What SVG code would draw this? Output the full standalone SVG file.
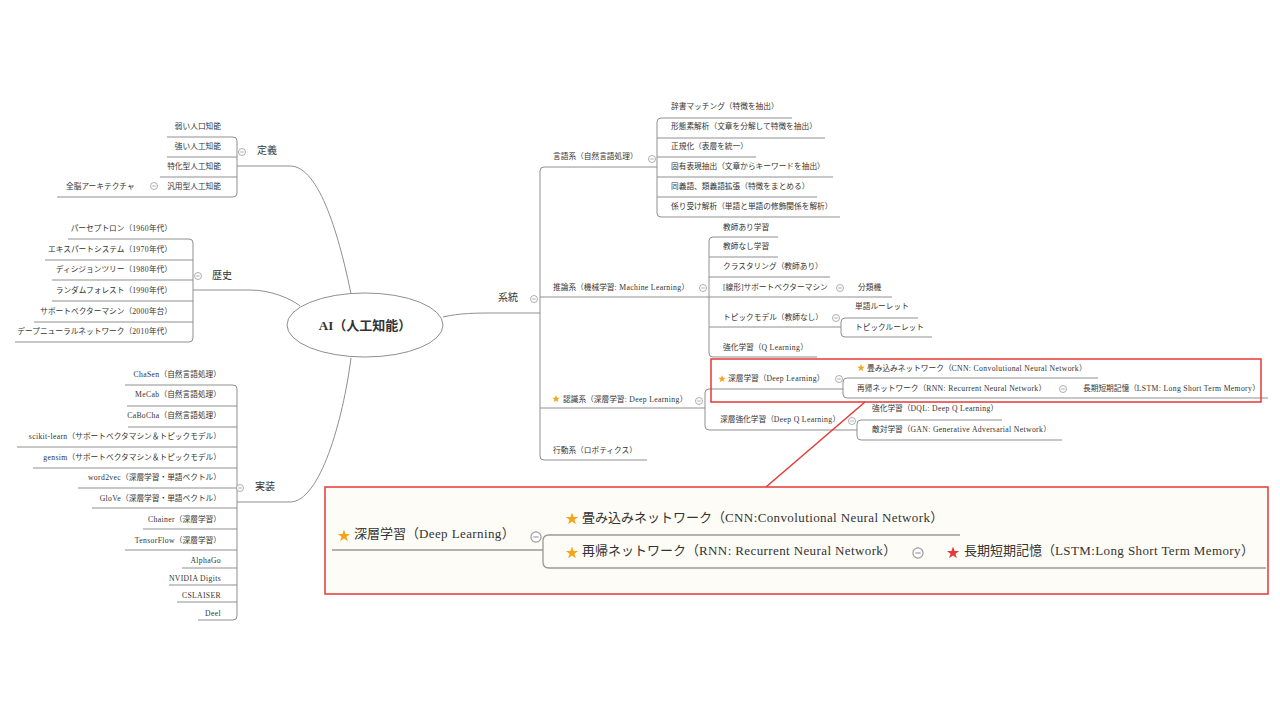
<svg xmlns="http://www.w3.org/2000/svg" xmlns:xlink="http://www.w3.org/1999/xlink" width="1280" height="720" viewBox="0 0 1280 720">
<defs>
<style>
.ln{fill:none;stroke:#8f8f8f;stroke-width:1}
.lnb{fill:none;stroke:#999;stroke-width:1.3}
.t{font-family:"Liberation Serif","Noto Sans CJK JP",serif;font-size:7.7px;fill:#333}
.la{letter-spacing:0.045em}
.big .la{letter-spacing:0.03em}
.e{text-anchor:end}
.l1{font-size:10px}
.big{font-size:13px}
.ctr{font-size:13px;font-weight:bold;text-anchor:middle}
.gold{fill:#f4a416}
.red{fill:#e53935}
.box{fill:none;stroke:#e53935;stroke-width:1.5}
</style>
<g id="tog"><circle r="3.5" fill="#fff" stroke="#999" stroke-width="0.8"/><line x1="-1.8" y1="0" x2="1.8" y2="0" stroke="#999" stroke-width="0.8"/></g>
<path id="star" d="M0,-1 L0.235,-0.324 L0.951,-0.309 L0.38,0.124 L0.588,0.809 L0,0.4 L-0.588,0.809 L-0.38,0.124 L-0.951,-0.309 L-0.235,-0.324Z"/>
</defs>
<rect width="1280" height="720" fill="#fff"/>

<g id="connectors">
<path class="ln" d="M237,166 H290 C320,166 340,240 351,294"/>
<path class="ln" d="M193,290 H250 C270,290 290,298 300,306"/>
<path class="ln" d="M237,502 H290 C320,502 343,420 351,358"/>
<path class="ln" d="M443,317 C460,313 475,313 500,313 H540"/>
<path class="ln" d="M167,137 H233 Q237,137 237,141 V193 Q237,197 233,197 H57"/>
<path class="ln" d="M167,157 H237 M160,177 H237"/>
<path class="ln" d="M68,239 H189 Q193,239 193,243 V338 Q193,342 189,342 H15"/>
<path class="ln" d="M45,260 H193 M52,280 H193 M52,301 H193 M34,322 H193"/>
<path class="ln" d="M125,385 H233 Q237,385 237,389 V616 Q237,620 233,620 H198"/>
<path class="ln" d="M127,406 H237 M128,427 H237 M17,447 H237 M33,468 H237 M78,488 H237 M92,508 H237 M143,529 H237 M125,550 H237 M182,568 H237 M169,585 H237 M177,602 H237"/>
<path class="ln" d="M657,167 H544 Q540,167 540,171 V456 Q540,460 544,460 H647"/>
<path class="ln" d="M540,297 H709 M540,408 H705"/>
<path class="ln" d="M792,118 H661 Q657,118 657,122 V213 Q657,217 661,217 H840"/>
<path class="ln" d="M657,138 H825 M657,157 H756 M657,177 H833 M657,197 H817"/>
<path class="ln" d="M778,237 H713 Q709,237 709,241 V353 Q709,357 713,357 H817"/>
<path class="ln" d="M709,257 H778 M709,277 H830 M709,297 H845 M709,327 H841"/>
<path class="ln" d="M845,297 H892"/>
<path class="ln" d="M918,318 H845 Q841,318 841,322 V333 Q841,337 845,337 H932"/>
<path class="ln" d="M843,389 H709 Q705,389 705,393 V426 Q705,430 709,430 H857"/>
<path class="ln" d="M1098,378 H847 Q843,378 843,382 V394 Q843,398 847,398 H1268"/>
<path class="ln" d="M1002,420 H861 Q857,420 857,424 V436 Q857,440 861,440 H1062"/>
<rect class="box" x="711" y="359" width="550" height="43"/>
<line x1="865" y1="402" x2="766" y2="487" stroke="#e53935" stroke-width="1.5"/>
</g>

<g id="center">
<ellipse cx="365" cy="325" rx="78" ry="32" fill="#fff" stroke="#8f8f8f" stroke-width="1"/>
<text class="t ctr" x="365" y="330">AI（人工知能）</text>
</g>

<g id="teigi">
<text class="t l1" x="257" y="154">定義</text>
<use xlink:href="#tog" x="242" y="152"/>
<text class="t e" x="221" y="129">弱い人口知能</text>
<text class="t e" x="221" y="149">強い人工知能</text>
<text class="t e" x="221" y="169">特化型人工知能</text>
<text class="t e" x="221" y="189">汎用型人工知能</text>
<use xlink:href="#tog" x="154" y="186"/>
<text class="t" x="66" y="189">全脳アーキテクチャ</text>
</g>

<g id="rekishi">
<text class="t l1" x="212" y="279">歴史</text>
<use xlink:href="#tog" x="198" y="276"/>
<text class="t e" x="172" y="231">パーセプトロン（<tspan class="la">1960</tspan>年代）</text>
<text class="t e" x="172" y="252">エキスパートシステム（<tspan class="la">1970</tspan>年代）</text>
<text class="t e" x="172" y="272">ディシジョンツリー（<tspan class="la">1980</tspan>年代）</text>
<text class="t e" x="172" y="293">ランダムフォレスト（<tspan class="la">1990</tspan>年代）</text>
<text class="t e" x="172" y="314">サポートベクターマシン（<tspan class="la">2000</tspan>年台）</text>
<text class="t e" x="172" y="334">デープニューラルネットワーク（<tspan class="la">2010</tspan>年代）</text>
</g>

<g id="jisso">
<text class="t l1" x="255" y="490">実装</text>
<use xlink:href="#tog" x="240" y="488"/>
<text class="t e" x="221" y="377"><tspan class="la">ChaSen</tspan>（自然言語処理）</text>
<text class="t e" x="221" y="397"><tspan class="la">MeCab</tspan>（自然言語処理）</text>
<text class="t e" x="221" y="418"><tspan class="la">CaBoCha</tspan>（自然言語処理）</text>
<text class="t e" x="221" y="439"><tspan class="la">scikit-learn</tspan>（サポートベクタマシン＆トピックモデル）</text>
<text class="t e" x="221" y="460"><tspan class="la">gensim</tspan>（サポートベクタマシン＆トピックモデル）</text>
<text class="t e" x="221" y="480"><tspan class="la">word2vec</tspan>（深層学習・単語ベクトル）</text>
<text class="t e" x="221" y="501"><tspan class="la">GloVe</tspan>（深層学習・単語ベクトル）</text>
<text class="t e" x="221" y="522"><tspan class="la">Chainer</tspan>（深層学習）</text>
<text class="t e" x="221" y="543"><tspan class="la">TensorFlow</tspan>（深層学習）</text>
<text class="t e la" x="221" y="563">AlphaGo</text>
<text class="t e la" x="221" y="581">NVIDIA Digits</text>
<text class="t e la" x="221" y="598">CSLAISER</text>
<text class="t e la" x="221" y="616">Deel</text>
</g>

<g id="keito">
<text class="t l1" x="498" y="301">系統</text>
<use xlink:href="#tog" x="534" y="299"/>
</g>

<g id="gengo">
<text class="t" x="553" y="159">言語系（自然言語処理）</text>
<use xlink:href="#tog" x="652" y="159"/>
<text class="t" x="671" y="109">辞書マッチング（特徴を抽出）</text>
<text class="t" x="671" y="129">形態素解析（文章を分解して特徴を抽出）</text>
<text class="t" x="671" y="149">正規化（表層を統一）</text>
<text class="t" x="671" y="169">固有表現抽出（文章からキーワードを抽出）</text>
<text class="t" x="671" y="189">同義語、類義語拡張（特徴をまとめる）</text>
<text class="t" x="671" y="209">係り受け解析（単語と単語の修飾関係を解析）</text>
</g>

<g id="suiron">
<text class="t" x="553" y="290">推論系（機械学習<tspan class="la">: Machine Learning</tspan>）</text>
<use xlink:href="#tog" x="703" y="288"/>
<text class="t" x="723" y="230">教師あり学習</text>
<text class="t" x="723" y="249">教師なし学習</text>
<text class="t" x="723" y="269">クラスタリング（教師あり）</text>
<text class="t" x="723" y="290">[線形]サポートベクターマシン</text>
<use xlink:href="#tog" x="840" y="288"/>
<text class="t" x="858" y="290">分類機</text>
<text class="t" x="723" y="320">トピックモデル（教師なし）</text>
<use xlink:href="#tog" x="836" y="318"/>
<text class="t" x="855" y="309">単語ルーレット</text>
<text class="t" x="855" y="330">トピックルーレット</text>
<text class="t" x="723" y="350">強化学習（<tspan class="la">Q Learning</tspan>）</text>
</g>

<g id="ninshiki">
<use xlink:href="#star" class="gold" transform="translate(556,399) scale(4)"/>
<text class="t" x="563" y="402">認識系（深層学習<tspan class="la">: Deep Learning</tspan>）</text>
<use xlink:href="#tog" x="699" y="401"/>
<use xlink:href="#star" class="gold" transform="translate(722,379) scale(4)"/>
<text class="t" x="728" y="381">深層学習（<tspan class="la">Deep Learning</tspan>）</text>
<use xlink:href="#tog" x="839" y="379"/>
<use xlink:href="#star" class="gold" transform="translate(861,368) scale(4)"/>
<text class="t" x="867" y="371">畳み込みネットワーク（<tspan class="la">CNN: Convolutional Neural Network</tspan>）</text>
<text class="t" x="857" y="391">再帰ネットワーク（<tspan class="la">RNN: Recurrent Neural Network</tspan>）</text>
<use xlink:href="#tog" x="1063" y="389"/>
<text class="t" x="1083" y="391">長期短期記憶（<tspan class="la">LSTM: Long Short Term Memory</tspan>）</text>
<text class="t" x="720" y="422">深層強化学習（<tspan class="la">Deep Q Learning</tspan>）</text>
<use xlink:href="#tog" x="852" y="421"/>
<text class="t" x="872" y="411">強化学習（<tspan class="la">DQL: Deep Q Learning</tspan>）</text>
<text class="t" x="872" y="432">敵対学習（<tspan class="la">GAN: Generative Adversarial Network</tspan>）</text>
</g>

<g id="kodo">
<text class="t" x="553" y="453">行動系（ロボティクス）</text>
</g>

<g id="zoom-box">
<rect x="325" y="487" width="943" height="107" fill="#fdfcf7" stroke="#e53935" stroke-width="1.5"/>
<path class="lnb" d="M332,550 H543"/>
<path class="lnb" d="M960,535 H549 Q543,535 543,541 V562 Q543,568 549,568 H1266"/>
<use xlink:href="#star" class="gold" transform="translate(344,536) scale(6.5)"/>
<text class="t big" x="354" y="538">深層学習（<tspan class="la">Deep Learning</tspan>）</text>
<use xlink:href="#tog" transform="translate(536,537) scale(1.45)"/>
<use xlink:href="#star" class="gold" transform="translate(572,519) scale(6.5)"/>
<text class="t big" x="582" y="522">畳み込みネットワーク（<tspan class="la">CNN:Convolutional Neural Network</tspan>）</text>
<use xlink:href="#star" class="gold" transform="translate(572,553) scale(6.5)"/>
<text class="t big" x="582" y="555">再帰ネットワーク（<tspan class="la">RNN: Recurrent Neural Network</tspan>）</text>
<use xlink:href="#tog" transform="translate(918,553) scale(1.45)"/>
<use xlink:href="#star" class="red" transform="translate(953,553) scale(6.5)"/>
<text class="t big" x="964" y="555">長期短期記憶（<tspan class="la">LSTM:Long Short Term Memory</tspan>）</text>
</g>
</svg>
